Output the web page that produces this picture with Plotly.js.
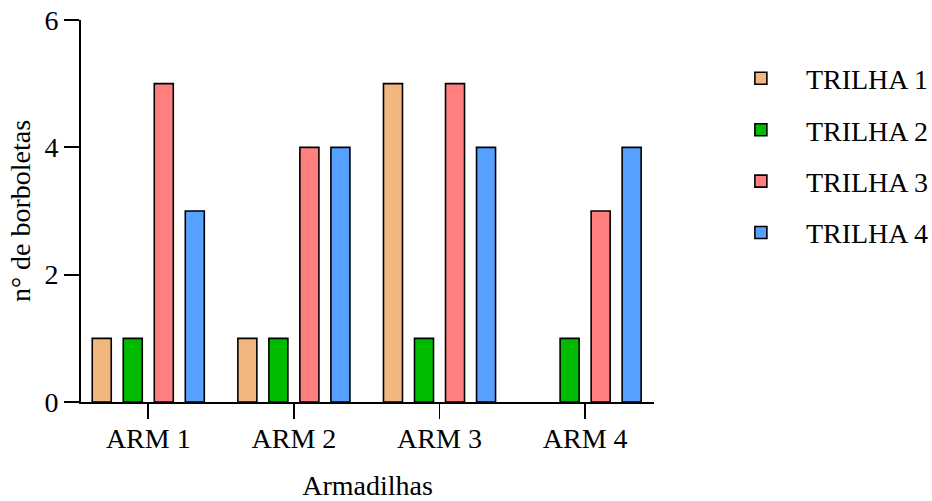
<!DOCTYPE html>
<html>
<head>
<meta charset="utf-8">
<script src="https://cdn.plot.ly/plotly-3.0.1.min.js"></script>
<style>html,body{margin:0;padding:0;background:#fff;}#chart{width:932px;height:501px;}</style>
</head>
<body>
<div id="chart"></div>
<script>
var categories = ["ARM 1", "ARM 2", "ARM 3", "ARM 4"];
var seriesNames = ["TRILHA 1", "TRILHA 2", "TRILHA 3", "TRILHA 4"];
var trilha1 = [1, 1, 5, 0];
var trilha2 = [1, 1, 1, 1];
var trilha3 = [5, 4, 5, 3];
var trilha4 = [3, 4, 4, 4];
var colors = ["#F2B77E", "#00BB00", "#FF7F7F", "#56A0FF"];

var values = [trilha1, trilha2, trilha3, trilha4];
var font = "'Liberation Serif', 'Times New Roman', serif";
var fs = 28;

var traces = values.map(function (v, i) {
  return {
    type: "bar",
    x: categories,
    y: v,
    name: seriesNames[i],
    legendgroup: "g" + i,
    marker: {
      color: colors[i],
      line: { color: "#000", width: v.map(function (d) { return d === 0 ? 0 : 1.6; }) }
    },
    hoverinfo: "x+y+name"
  };
});

var layout = {
  width: 932,
  height: 501,
  margin: { l: 81, r: 278, t: 20, b: 99, autoexpand: false },
  paper_bgcolor: "#fff",
  plot_bgcolor: "#fff",
  font: { family: font, size: fs, color: "#000" },
  barmode: "group",
  bargap: 0.148,
  bargroupgap: 0.387,
  showlegend: true,
  legend: {
    x: 1.108, xanchor: "left", xref: "paper",
    y: 0.912, yanchor: "top",
    font: { family: font, size: fs, color: "#000" },
    tracegroupgap: 12,
    itemwidth: 80,
    bgcolor: "rgba(0,0,0,0)"
  },
  xaxis: {
    type: "category",
    range: [-0.462, 3.473],
    showline: true, linecolor: "#000", linewidth: 1.8,
    ticks: "outside", ticklen: 15, tickwidth: 1.8, tickcolor: "#000",
    ticklabelstandoff: -4,
    showgrid: false, zeroline: false,
    tickfont: { family: font, size: fs, color: "#000" },
    title: { text: "Armadilhas", font: { family: font, size: fs, color: "#000" }, standoff: 30 }
  },
  yaxis: {
    range: [0, 6],
    tickvals: [0, 2, 4, 6],
    showline: true, linecolor: "#000", linewidth: 1.8,
    ticks: "outside", ticklen: 15, tickwidth: 1.8, tickcolor: "#000",
    showgrid: false, zeroline: false,
    tickfont: { family: font, size: fs, color: "#000" },
    title: { text: "n° de borboletas", font: { family: font, size: fs, color: "#000" }, standoff: 6 }
  }
};

Plotly.newPlot("chart", traces, layout, { displayModeBar: false, staticPlot: true });
</script>
</body>
</html>
